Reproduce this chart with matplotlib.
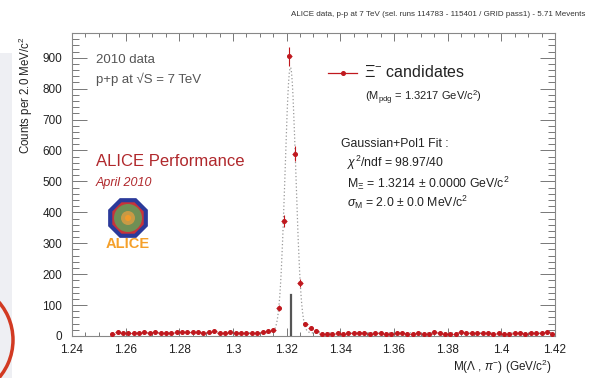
import numpy as np
import matplotlib
matplotlib.use("Agg")
import matplotlib.pyplot as plt
from matplotlib.patches import RegularPolygon, Rectangle, Circle, Arc
from matplotlib.lines import Line2D

plt.rcParams['font.family'] = ['Liberation Sans', 'DejaVu Sans']
plt.rcParams['mathtext.fontset'] = 'custom'
plt.rcParams['mathtext.rm'] = 'Liberation Sans'
plt.rcParams['mathtext.it'] = 'Liberation Sans:italic'

# ---- data ----
bin_first_center = 1.255
bin_width = 0.002
counts = [8, 12, 9, 11, 10, 9, 12, 11, 12, 10,
          9, 11, 12, 13, 13, 12, 13, 11, 13, 15,
          9, 11, 12, 11, 10, 10, 11, 11, 13, 17,
          20, 92, 372, 904, 589, 171, 39, 27, 17, 8,
          7, 8, 10, 8, 9, 10, 9, 11, 8, 10,
          9, 7, 8, 10, 11, 8, 7, 9, 8, 8,
          12, 9, 8, 8, 7, 12, 11, 10, 10, 9,
          10, 8, 9, 8, 7, 9, 10, 8, 9, 10,
          9, 13, 7]
xticks = [1.24, 1.26, 1.28, 1.30, 1.32, 1.34, 1.36, 1.38, 1.40, 1.42]
xticklabels = ['1.24', '1.26', '1.28', '1.3', '1.32', '1.34', '1.36', '1.38', '1.4', '1.42']
yticks = [0, 100, 200, 300, 400, 500, 600, 700, 800, 900]
# fit (Gaussian + pol1)
fit_mean = 1.3214
fit_sigma = 0.0020
fit_amp = 860.0
fit_p0 = 10.0
fit_p1 = 0.0
m_pdg = 1.3217
pdg_line_height = 133

counts = np.array(counts, dtype=float)
centers = bin_first_center + bin_width * np.arange(len(counts))

fig = plt.figure(figsize=(5.89, 3.78), dpi=100)
W, H = 589, 378

# slide decoration on the left
fig.patches.append(Rectangle((0, 0), 12 / W, (378 - 53) / H, transform=fig.transFigure,
                             facecolor='#eeeff3', edgecolor='none', zorder=0))
fig.patches.append(Arc((-45 / W, 1 - 340 / H), 116 / W, 116 / H, transform=fig.transFigure,
                       theta1=-60, theta2=60, color='#d23a22', lw=2.5, zorder=1))

ax = fig.add_axes([72 / W, 1 - 336 / H, (555 - 72) / W, (336 - 33) / H])
ax.set_xlim(1.24, 1.42)
ax.set_ylim(0, 980)

red = '#c0181e'
# fit curve
xf = np.linspace(1.255, 1.419, 600)
yf = fit_amp * np.exp(-0.5 * ((xf - fit_mean) / fit_sigma) ** 2) + fit_p0 + fit_p1 * (xf - 1.32)
ax.plot(xf, yf, linestyle=(0, (1, 1.8)), color='#999999', lw=0.9, zorder=2)

# PDG mass line
ax.plot([m_pdg, m_pdg], [0, pdg_line_height], color='#555555', lw=1.6, zorder=3)

# data points
ax.errorbar(centers, counts, yerr=np.sqrt(counts), xerr=bin_width / 2, fmt='o',
            color=red, ms=2.6, elinewidth=0.8, capsize=0, zorder=4)

# ticks
ax.set_xticks(xticks)
ax.set_xticklabels(xticklabels)
ax.set_xticks(np.arange(1.24, 1.4201, 0.005), minor=True)
ax.set_yticks(yticks)
ax.set_yticks(np.arange(0, 980, 20), minor=True)
ax.tick_params(axis='both', which='both', direction='in', top=True, right=True,
               color='#777777', width=0.7, labelsize=8.5, labelcolor='#222222')
ax.tick_params(axis='x', which='major', length=6, pad=6)
ax.tick_params(axis='x', which='minor', length=3)
ax.tick_params(axis='y', which='major', length=11, pad=7)
ax.tick_params(axis='y', which='minor', length=5)
for s in ax.spines.values():
    s.set_color('#888888')
    s.set_linewidth(0.8)

# axis labels
fig.text(26 / W, 1 - 37 / H, r'Counts per 2.0 MeV/c$^{2}$', rotation=90, ha='center', va='top',
         fontsize=8.3, color='#222222')
fig.text(552 / W, 1 - 367 / H, r'M($\Lambda$ , $\pi^{-}$) (GeV/c$^{2}$)', ha='right', va='center',
         fontsize=8.5, color='#222222')
fig.text(585 / W, 1 - 15 / H,
         'ALICE data, p-p at 7 TeV (sel. runs 114783 - 115401 / GRID pass1) - 5.71 Mevents',
         ha='right', va='center', fontsize=5.8, color='#333333')

def ft(x, y, s, **kw):
    fig.text(x / W, 1 - y / H, s, **kw)

grey = '#555555'
ft(96, 60, '2010 data', ha='left', va='center', fontsize=9.5, color=grey)
ft(96, 79, 'p+p at \u221aS = 7 TeV', ha='left', va='center', fontsize=9.5, color=grey,
   family=['Liberation Sans', 'DejaVu Sans'])
ft(96, 162, 'ALICE Performance', ha='left', va='center', fontsize=12, color='#b0282c')
ft(96, 183, 'April 2010', ha='left', va='center', fontsize=9, color='#b0282c', style='italic')

# ALICE logo
fig.patches.append(RegularPolygon((128, 378 - 218), 8, radius=21.5, orientation=np.pi / 8,
                                  transform=None, facecolor='#2b3a9a', edgecolor='none', zorder=5))
fig.patches.append(RegularPolygon((128, 378 - 218), 8, radius=17, orientation=np.pi / 8,
                                  transform=None, facecolor='#c8323a', edgecolor='none', zorder=6))
fig.patches.append(Circle((128, 378 - 218), 14, transform=None, facecolor='#6f8f55',
                          edgecolor='none', zorder=7))
fig.patches.append(Circle((128, 378 - 218), 7, transform=None, facecolor='#c89a45',
                          edgecolor='none', zorder=8))
fig.patches.append(Circle((128, 378 - 218), 3, transform=None, facecolor='#f39a2a',
                          edgecolor='none', zorder=9))
ft(128, 244, 'ALICE', ha='center', va='center', fontsize=10.5, color='#f5a02a', weight='bold', zorder=10)

# legend / fit info
fig.add_artist(Line2D([328 / W, 357 / W], [1 - 73 / H, 1 - 73 / H], color=red, lw=0.9,
                      transform=fig.transFigure))
fig.add_artist(Line2D([342.5 / W], [1 - 73 / H], color=red, marker='o', ms=2.6,
                      transform=fig.transFigure))
ft(364, 72, r'$\Xi^{-}$ candidates', ha='left', va='center', fontsize=11.5, color='#222222')
ft(365, 98, r'(M$_{\mathrm{pdg}}$ = 1.3217 GeV/c$^{2}$)', ha='left', va='center', fontsize=8, color='#222222')
ft(341, 144, 'Gaussian+Pol1 Fit :', ha='left', va='center', fontsize=8.8, color='#222222')
ft(347, 163, r'$\chi^{2}$/ndf = 98.97/40', ha='left', va='center', fontsize=8.8, color='#222222')
ft(347, 183, r'M$_{\Xi}$ = 1.3214 $\pm$ 0.0000 GeV/c$^{2}$', ha='left', va='center', fontsize=8.8, color='#222222')
ft(347, 202, r'$\sigma_{\mathrm{M}}$ = 2.0 $\pm$ 0.0 MeV/c$^{2}$', ha='left', va='center', fontsize=8.8, color='#222222')

fig.savefig('out.png', dpi=100)
